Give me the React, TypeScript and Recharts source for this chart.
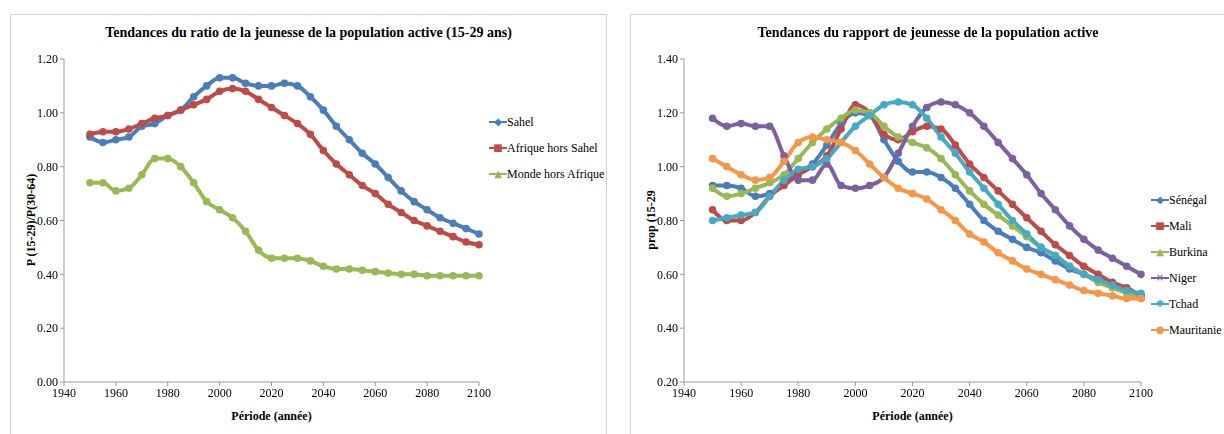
import { LineChart, Line, XAxis, YAxis } from "recharts";

const years = [1950, 1955, 1960, 1965, 1970, 1975, 1980, 1985, 1990, 1995, 2000, 2005, 2010, 2015, 2020, 2025, 2030, 2035, 2040, 2045, 2050, 2055, 2060, 2065, 2070, 2075, 2080, 2085, 2090, 2095, 2100];

const sahel = [0.91, 0.89, 0.9, 0.91, 0.95, 0.96, 0.99, 1.01, 1.06, 1.1, 1.13, 1.13, 1.11, 1.1, 1.1, 1.11, 1.1, 1.06, 1.01, 0.95, 0.9, 0.85, 0.81, 0.76, 0.71, 0.67, 0.64, 0.61, 0.59, 0.57, 0.55];
const afriqueHorsSahel = [0.92, 0.93, 0.93, 0.94, 0.96, 0.98, 0.99, 1.01, 1.03, 1.05, 1.08, 1.09, 1.08, 1.05, 1.02, 0.99, 0.96, 0.92, 0.86, 0.81, 0.77, 0.73, 0.7, 0.66, 0.63, 0.6, 0.58, 0.56, 0.54, 0.52, 0.51];
const mondeHorsAfrique = [0.74, 0.74, 0.71, 0.72, 0.77, 0.83, 0.83, 0.8, 0.74, 0.67, 0.64, 0.61, 0.56, 0.49, 0.46, 0.46, 0.46, 0.45, 0.43, 0.42, 0.42, 0.415, 0.41, 0.405, 0.4, 0.4, 0.395, 0.395, 0.395, 0.395, 0.395];

const senegal = [0.93, 0.93, 0.92, 0.89, 0.9, 0.94, 0.98, 1.01, 1.08, 1.16, 1.2, 1.19, 1.1, 1.02, 0.98, 0.98, 0.96, 0.92, 0.86, 0.8, 0.76, 0.73, 0.7, 0.68, 0.65, 0.62, 0.6, 0.58, 0.56, 0.54, 0.52];
const mali = [0.84, 0.8, 0.8, 0.83, 0.89, 0.93, 0.97, 1.0, 1.04, 1.14, 1.23, 1.2, 1.12, 1.1, 1.13, 1.15, 1.14, 1.08, 1.01, 0.96, 0.91, 0.86, 0.81, 0.76, 0.71, 0.67, 0.63, 0.6, 0.57, 0.55, 0.52];
const burkina = [0.92, 0.89, 0.9, 0.92, 0.94, 0.97, 1.03, 1.09, 1.14, 1.18, 1.21, 1.2, 1.15, 1.11, 1.09, 1.07, 1.03, 0.97, 0.91, 0.86, 0.82, 0.78, 0.74, 0.7, 0.67, 0.63, 0.6, 0.57, 0.55, 0.53, 0.51];
const niger = [1.18, 1.15, 1.16, 1.15, 1.15, 1.04, 0.95, 0.95, 1.01, 0.93, 0.92, 0.93, 0.96, 1.05, 1.15, 1.22, 1.24, 1.23, 1.2, 1.15, 1.09, 1.03, 0.97, 0.9, 0.84, 0.78, 0.73, 0.69, 0.66, 0.63, 0.6];
const tchad = [0.8, 0.81, 0.82, 0.83, 0.89, 0.95, 0.99, 1.0, 1.03, 1.09, 1.15, 1.19, 1.23, 1.24, 1.23, 1.18, 1.11, 1.05, 0.98, 0.92, 0.86, 0.8, 0.75, 0.7, 0.67, 0.63, 0.6, 0.58, 0.56, 0.54, 0.53];
const mauritanie = [1.03, 1.0, 0.97, 0.95, 0.96, 1.02, 1.09, 1.11, 1.1, 1.09, 1.06, 1.01, 0.96, 0.92, 0.9, 0.88, 0.84, 0.8, 0.75, 0.72, 0.68, 0.65, 0.62, 0.6, 0.58, 0.56, 0.54, 0.53, 0.52, 0.51, 0.51];

const xTicks = [1940, 1960, 1980, 2000, 2020, 2040, 2060, 2080, 2100];
const leftTicks = [0, 0.2, 0.4, 0.6, 0.8, 1.0, 1.2];
const rightTicks = [0.2, 0.4, 0.6, 0.8, 1.0, 1.2, 1.4];

const font = "'Liberation Serif', 'DejaVu Serif', serif";

type Series = { name: string; values: number[]; color: string; mark: string };

const leftSeries: Series[] = [
  { name: "Sahel", values: sahel, color: "#4a7ebb", mark: "◆" },
  { name: "Afrique hors Sahel", values: afriqueHorsSahel, color: "#be4b48", mark: "■" },
  { name: "Monde hors Afrique", values: mondeHorsAfrique, color: "#98b954", mark: "▲" },
];

const rightSeries: Series[] = [
  { name: "Sénégal", values: senegal, color: "#4a7ebb", mark: "◆" },
  { name: "Mali", values: mali, color: "#be4b48", mark: "■" },
  { name: "Burkina", values: burkina, color: "#98b954", mark: "▲" },
  { name: "Niger", values: niger, color: "#7d60a0", mark: "×" },
  { name: "Tchad", values: tchad, color: "#46aac5", mark: "✱" },
  { name: "Mauritanie", values: mauritanie, color: "#f79646", mark: "●" },
];

function Panel({ left, width, title, yLabel, series, yTicks, plotRight, legendTop }: {
  left: number; width: number; title: string; yLabel: string; series: Series[]; yTicks: number[]; plotRight: number; legendTop: number;
}) {
  const data = years.map((y, i) => {
    const row: Record<string, number> = { year: y };
    series.forEach((s) => (row[s.name] = s.values[i]));
    return row;
  });
  const tick = { fill: "#000", fontSize: 12, fontFamily: font };
  return (
    <div style={{ position: "absolute", left, top: 14, width, height: 420, border: "1px solid #d0d0d0", borderBottom: "none", overflow: "hidden", background: "#fff", fontFamily: font }}>
      <div style={{ position: "absolute", top: 10, left: 0, width: "100%", textAlign: "center", fontWeight: "bold", fontSize: 14 }}>{title}</div>
      <div style={{ position: "absolute", left: 20, top: 205, transform: "translate(-50%,-50%) rotate(-90deg)", whiteSpace: "nowrap", fontWeight: "bold", fontSize: 12 }}>{yLabel}</div>
      <div style={{ position: "absolute", top: 394, left: 53, width: plotRight - 53, textAlign: "center", fontWeight: "bold", fontSize: 12 }}>Période (année)</div>
      <div style={{ position: "absolute", left: plotRight + 10, top: legendTop, fontSize: 12, lineHeight: "26px", whiteSpace: "nowrap" }}>
        {series.map((s) => (
          <div key={s.name} style={{ display: "flex", alignItems: "center" }}>
            <span style={{ position: "relative", width: 18, height: 10, display: "inline-block" }}>
              <span style={{ position: "absolute", left: 0, right: 0, top: 4, height: 2, background: s.color }} />
              <span style={{ position: "absolute", left: 0, width: 18, top: -8, textAlign: "center", color: s.color, fontSize: 10, lineHeight: "26px", fontFamily: "'DejaVu Sans', sans-serif" }}>{s.mark}</span>
            </span>
            <span>{s.name}</span>
          </div>
        ))}
      </div>
      <LineChart width={width} height={420} data={data} style={{ fontFamily: font }} margin={{ top: 44, right: width - plotRight, bottom: 23, left: 13 }}>
        <XAxis dataKey="year" type="number" domain={[1940, 2100]} ticks={xTicks} tick={tick} stroke="#999" tickSize={4} height={30} />
        <YAxis domain={[yTicks[0], yTicks[yTicks.length - 1]]} ticks={yTicks} tickFormatter={(v: number) => v.toFixed(2)} tick={tick} stroke="#999" width={40} tickSize={4} />
        {series.map((s) => (
          <Line key={s.name} dataKey={s.name} name={s.name} type="monotone" stroke={s.color} strokeWidth={4} dot={{ r: 1.8, fill: s.color, stroke: s.color }} isAnimationActive={false} />
        ))}
      </LineChart>
    </div>
  );
}

export default function App() {
  return (
    <div style={{ position: "fixed", left: 0, top: 0, width: 1224, height: 434, background: "#fff" }}>
      <Panel left={10} width={595} title="Tendances du ratio de la jeunesse de la population active (15-29 ans)" yLabel="P (15-29)/P(30-64)" series={leftSeries} yTicks={leftTicks} plotRight={468} legendTop={94} />
      <Panel left={630} width={594} title="Tendances du rapport de jeunesse de la population active" yLabel="prop (15-29" series={rightSeries} yTicks={rightTicks} plotRight={510} legendTop={172} />
    </div>
  );
}
